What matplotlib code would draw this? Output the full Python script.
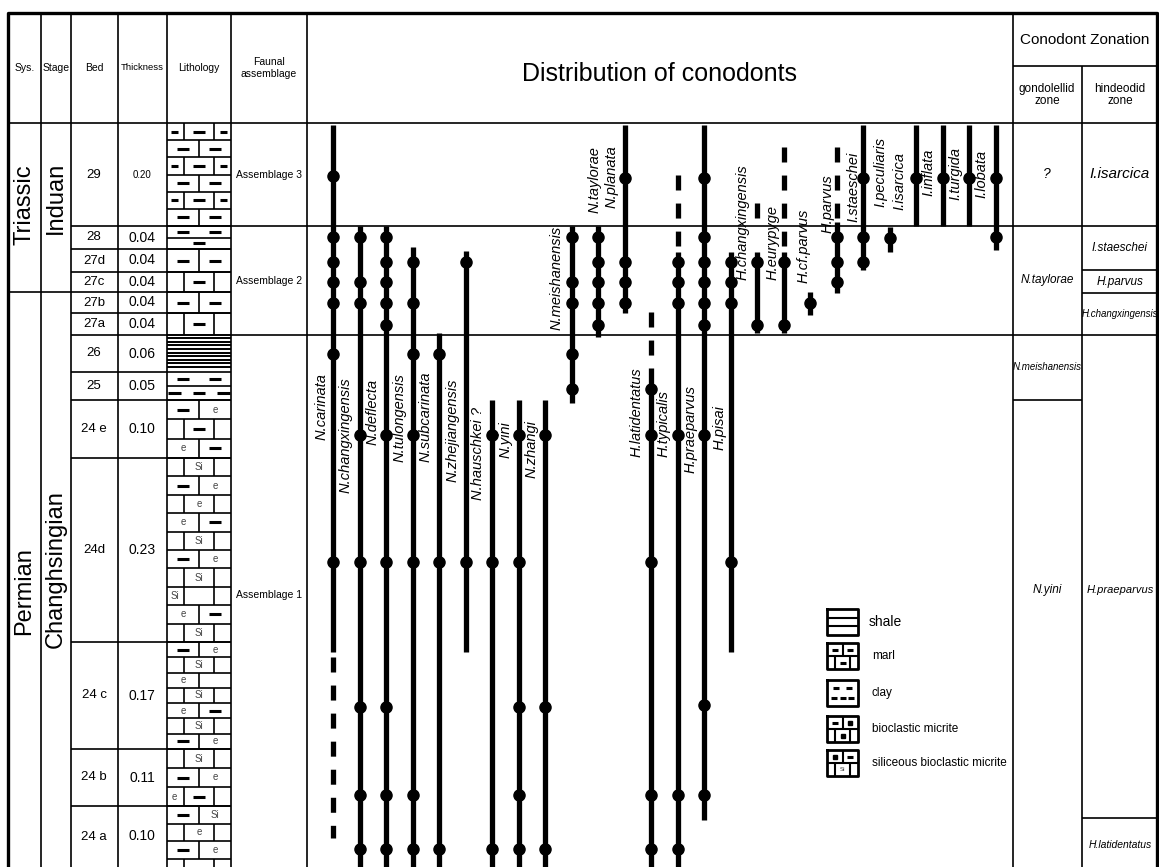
import matplotlib
matplotlib.use('Agg')
import matplotlib.pyplot as plt

plt.rcParams['lines.scale_dashes'] = False
NARROW = ['Liberation Sans Narrow', 'Liberation Sans', 'DejaVu Sans']
WIDE = ['Liberation Sans', 'DejaVu Sans']

# Beds (chart units = vertical position of the bed tops)
beds = ['29', '28', '27d', '27c', '27b', '27a', '26', '25', '24 e', '24d', '24 c', '24 b', '24 a']
thickness = ['0.20', '0.04', '0.04', '0.04', '0.04', '0.04', '0.06', '0.05', '0.10', '0.23', '0.17', '0.11', '0.10']
bed_top = [123, 226, 249, 272, 292, 313, 335, 372, 400, 458, 642, 749, 806]
bed_bottom = bed_top[1:] + [880]

# Lithology rows of each bed: kind:symbols  (A = 2 bricks, B = offset bricks,
# C/D = no joints, H = shale)
litho = [
    ['B:---', 'A:--', 'B:---', 'A:--', 'B:---', 'A:--'],
    ['C:--', 'D:.-.'],
    ['A:--'],
    ['B:.-.'],
    ['A:--'],
    ['B:.-.'],
    ['H'],
    ['C:--', 'D:---'],
    ['A:-e', 'B:.-.', 'A:e-'],
    ['B:.S.', 'A:-e', 'B:.e.', 'A:e-', 'B:.S.', 'A:-e', 'B:.S.', 'B:S..', 'A:e-', 'B:.S.'],
    ['A:-e', 'B:.S.', 'A:e.', 'B:.S.', 'A:e-', 'B:.S.', 'A:-e'],
    ['B:.S.', 'A:-e', 'B:e-.'],
    ['A:-S', 'B:.e.', 'A:-e', 'B:...'],
]

systems = [('Triassic', 123, 292), ('Permian', 292, 880)]
stages = [('Induan', 123, 292), ('Changhsingian', 292, 880)]
assemblages = [('Assemblage 3', 123, 226), ('Assemblage 2', 226, 335), ('Assemblage 1', 335, 880)]

# Conodont ranges
species = ['N.carinata', 'N.changxingensis', 'N.deflecta', 'N.tulongensis', 'N.subcarinata',
           'N.zhejiangensis', 'N.hauschkei ?', 'N.yini', 'N.zhangi', 'N.meishanensis',
           'N.taylorae', 'N.planata', 'H.latidentatus', 'H.typicalis', 'H.praeparvus',
           'H.pisai', 'H.changxingensis', 'H.eurypyge', 'H.cf.parvus', 'H.parvus',
           'I.staeschei', 'I.peculiaris', 'I.isarcica', 'I.inflata', 'I.turgida', 'I.lobata']
solid = [(125, 652), (226, 880), (226, 880), (247, 880), (333, 880),
         (251, 652), (400, 880), (400, 880), (400, 880), (226, 403),
         (226, 337), (125, 313), (368, 880), (252, 880), (125, 820),
         (252, 652), (252, 333), (252, 333), (292, 315), (222, 293),
         (125, 270), (227, 252), (125, 226), (125, 226), (125, 226), (125, 250)]
dashed = [(657, 838), None, None, None, None,
          None, None, None, None, None,
          None, None, (312, 360), (175, 246), None,
          None, (203, 218), (147, 246), None, (147, 218),
          None, None, None, None, None, None]
dots = [[176, 237, 262, 282, 303, 354, 562],
        [237, 282, 303, 435, 562, 707, 795, 849],
        [237, 262, 282, 303, 325, 435, 562, 707, 795, 849],
        [262, 303, 354, 435, 562, 795, 849],
        [354, 562, 849],
        [262, 562],
        [435, 562, 849],
        [435, 562, 707, 795, 849],
        [435, 707, 849],
        [237, 282, 303, 354, 389],
        [237, 262, 282, 303, 325],
        [178, 262, 282, 303],
        [389, 435, 562, 795, 849],
        [262, 282, 303, 435, 795, 849],
        [178, 237, 262, 282, 303, 325, 435, 705, 795],
        [262, 282, 303, 562],
        [262, 325],
        [262, 325],
        [303],
        [237, 262, 282],
        [178, 237, 262],
        [238],
        [178], [178], [178], [178, 237]]

# label layout: lower end of each rotated name and offset from its line
label_end = [440, 493, 445, 462, 462, 482, 500, 458, 478, 330, 213, 208, 457,
             457, 473, 450, 280, 280, 283, 233, 222, 207, 210, 196, 200, 198]
label_dx = [-11, -14, -13, -13, -13, -13, -14, -13, -13, -15, -3, -13, -14,
            -14, -13, -11, -14, -11, -6, -9, -10, -9, -17, -14, -14, -14]

gond_zones = [('?', 123, 226), ('N.taylorae', 226, 335), ('N.meishanensis', 335, 400), ('N.yini', 400, 880)]
hind_zones = [('I.isarcica', 123, 226), ('I.staeschei', 226, 270), ('H.parvus', 270, 293),
              ('H.changxingensis', 293, 335), ('H.praeparvus', 335, 818), ('H.latidentatus', 818, 880)]

legend_items = ['shale', 'marl', 'clay', 'bioclastic micrite', 'siliceous bioclastic micrite']

fig = plt.figure(figsize=(11.59, 8.67), dpi=100)
ax = fig.add_axes([0, 0, 1, 1])
ax.set_xlim(0, 1159)
ax.set_ylim(867, 0)
ax.axis('off')

K = 'black'
LW = 1.2

# frame
ax.plot([8, 8, 1157, 1157], [880, 13, 13, 880], color=K, lw=2.4)
for x in [41, 71, 118, 167, 231, 307, 1013]:
    ax.vlines(x, 13, 880, color=K, lw=LW)
ax.vlines(1082, 66, 880, color=K, lw=LW)
ax.hlines(123, 8, 1157, color=K, lw=LW)
ax.hlines(66, 1013, 1157, color=K, lw=LW)
for y in bed_top[1:]:
    x0 = 8 if y == 292 else 71
    x1 = 1157 if y in (226, 335) else 231
    ax.hlines(y, x0, x1, color=K, lw=LW)

# headers
hdr = dict(ha='center', va='center', family=NARROW, fontsize=7.5)
ax.text(24.5, 68, 'Sys.', **hdr)
ax.text(56, 68, 'Stage', **hdr)
ax.text(94.5, 68, 'Bed', **hdr)
ax.text(142.5, 68, 'Thickness', ha='center', va='center', family=NARROW, fontsize=6.8)
ax.text(199, 68, 'Lithology', **hdr)
ax.text(269, 68, 'Faunal\nassemblage', **hdr)
ax.text(660, 74, 'Distribution of conodonts', ha='center', va='center', family=NARROW, fontsize=18)
ax.text(1085, 40, 'Conodont Zonation', ha='center', va='center', family=NARROW, fontsize=11)
ax.text(1047, 95, 'gondolellid\nzone', ha='center', va='center', family=NARROW, fontsize=8.5, linespacing=1.0)
ax.text(1120, 95, 'hindeodid\nzone', ha='center', va='center', family=NARROW, fontsize=8.5, linespacing=1.0)

for name, y0, y1 in systems:
    ax.text(24.5, (y0 + min(y1, 867)) / 2 + (-3 if name == 'Triassic' else 12), name, rotation=90,
            ha='center', va='center', family=WIDE, fontsize=17)
for name, y0, y1 in stages:
    ax.text(56, (y0 + min(y1, 867)) / 2 - 10, name, rotation=90,
            ha='center', va='center', family=WIDE, fontsize=17)
for name, y0, y1 in assemblages:
    yc = (y0 + y1) / 2 if y1 < 800 else 595
    ax.text(269, yc, name, ha='center', va='center', family=NARROW, fontsize=7.5)

for b, t, y0, y1 in zip(beds, thickness, bed_top, bed_bottom):
    yc = (y0 + min(y1, 867)) / 2
    ax.text(94, yc, b, ha='center', va='center', family=NARROW, fontsize=9.5)
    ax.text(142, yc, t, ha='center', va='center', family=NARROW, fontsize=7 if t == '0.20' else 10)


def dash(xc, y, half):
    ax.plot([xc - half, xc + half], [y, y], color=K, lw=2.2, solid_capstyle='butt')


def litho_row(y0, y1, code, xl=167, xr=231, fs=7):
    kind, syms = code.split(':')
    w = xr - xl
    if kind in 'AC':
        cx = [xl + w * 0.25, xl + w * 0.75]
        divs = [xl + w * 0.5] if kind == 'A' else []
    else:
        cx = [xl + w * 0.12, xl + w * 0.5, xl + w * 0.88]
        divs = [xl + w * 0.27, xl + w * 0.74] if kind == 'B' else []
    for d in divs:
        ax.vlines(d, y0, y1, color=K, lw=LW)
    ym = (y0 + y1) / 2
    for i, (c, s) in enumerate(zip(cx, syms)):
        edge = kind in 'BD' and i != 1
        if s == '-':
            dash(c, ym, w * (0.05 if edge and kind == 'B' else 0.1))
        elif s == 'e':
            ax.text(c, ym, 'e', ha='center', va='center', fontsize=fs, color='#444', family=WIDE)
        elif s == 'S':
            ax.text(c, ym, 'Si', ha='center', va='center', fontsize=fs, color='#444', family=WIDE)
    ax.hlines(y1, xl, xr, color=K, lw=LW)


for rows, y0, y1 in zip(litho, bed_top, bed_bottom):
    if rows == ['H']:
        n = 9
        for k in range(n):
            ax.hlines(y0 + 3 + k * (y1 - y0 - 8) / (n - 1), 167, 231, color=K, lw=1.4)
        continue
    h = 17.5 if y1 > 867 else (y1 - y0) / len(rows)
    for k, r in enumerate(rows):
        litho_row(y0 + k * h, y0 + (k + 1) * h, r)

# conodont ranges
LWR = 3.8
for i, name in enumerate(species):
    x = 333 + 26.5 * i
    y0, y1 = solid[i]
    ax.plot([x, x], [y0, y1], color=K, lw=LWR, solid_capstyle='butt')
    if dashed[i] is not None:
        d0, d1 = dashed[i]
        ax.plot([x, x], [d0, d1], color=K, lw=LWR, solid_capstyle='butt', dash_capstyle='butt',
                linestyle=(0, (10.8, 9.4)))
    ax.plot([x] * len(dots[i]), dots[i], 'o', color=K, ms=8)
    ax.text(x + label_dx[i], label_end[i], name, rotation=90, ha='center', va='bottom',
            family=NARROW, style='italic', fontsize=10.5)

# zonation
for name, y0, y1 in gond_zones:
    yc = (y0 + y1) / 2 if y1 < 800 else 590
    ax.text(1047, yc, name, ha='center', va='center', family=NARROW, style='italic',
            fontsize=7 if name == 'N.meishanensis' else (10 if name == '?' else 8.5))
for name, y0, y1 in hind_zones:
    yc = (y0 + y1) / 2 if y1 < 800 else 590
    if name == 'H.latidentatus':
        yc = 845
    fs = {'I.isarcica': 11, 'H.changxingensis': 7, 'H.praeparvus': 8, 'H.latidentatus': 7.5}.get(name, 8.5)
    ax.text(1120, yc, name, ha='center', va='center', family=NARROW, style='italic', fontsize=fs)
ax.hlines(400, 1013, 1082, color=K, lw=LW)
for y in [270, 293, 818]:
    ax.hlines(y, 1082, 1157, color=K, lw=LW)

# legend
leg_y = [609, 643, 680, 716, 750]
bx0, bx1 = 827, 858
for name, y0 in zip(legend_items, leg_y):
    y1 = y0 + 26
    ax.plot([bx0, bx1, bx1, bx0, bx0], [y0, y0, y1, y1, y0], color=K, lw=2.0)
    if name == 'shale':
        for f in (1 / 3, 2 / 3):
            ax.hlines(y0 + 26 * f, bx0, bx1, color=K, lw=1.5)
    elif name == 'clay':
        for f, xs in ((0.3, (836, 849)), (0.7, (834, 842.5, 851))):
            for xc in xs:
                dash(xc, y0 + 26 * f, 3)
    else:
        ym = y0 + 13
        ax.hlines(ym, bx0, bx1, color=K, lw=1.5)
        ax.vlines((bx0 + bx1) / 2, y0, ym, color=K, lw=1.5)
        ax.vlines([bx0 + 8, bx1 - 8], ym, y1, color=K, lw=1.5)
        top = {'marl': '--', 'bioclastic micrite': '-.', 'siliceous bioclastic micrite': '.-'}[name]
        for xc, s in zip((bx0 + 8, bx1 - 8), top):
            if s == '-':
                dash(xc, y0 + 6.5, 3)
            else:
                ax.plot(xc, y0 + 6.5, 's', color=K, ms=2.5)
        if name == 'marl':
            dash((bx0 + bx1) / 2, ym + 6.5, 3)
        elif name == 'bioclastic micrite':
            ax.plot((bx0 + bx1) / 2, ym + 6.5, 's', color=K, ms=2.5)
        else:
            ax.text((bx0 + bx1) / 2, ym + 6.5, 'Si', ha='center', va='center', fontsize=4.5, color='#444')
    ax.text(869 if name == 'shale' else 872, y0 + 13, name, ha='left', va='center',
            family=NARROW, fontsize=10 if name == 'shale' else 8.5)

fig.savefig('out.png', dpi=100)
